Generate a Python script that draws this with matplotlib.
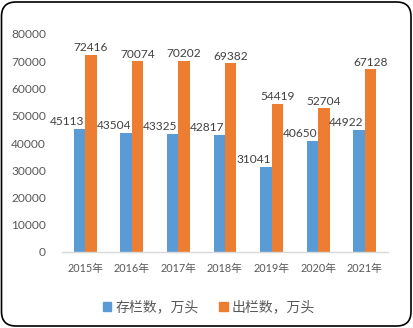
import matplotlib
matplotlib.use("Agg")
import matplotlib.pyplot as plt
from matplotlib.patches import FancyBboxPatch, Patch
import numpy as np

plt.rcParams['font.family'] = ['Lato', 'Noto Sans CJK SC', 'DejaVu Sans']

categories = ['2015年', '2016年', '2017年', '2018年', '2019年', '2020年', '2021年']
stock = [45113, 43504, 43325, 42817, 31041, 40650, 44922]
slaughter = [72416, 70074, 70202, 69382, 54419, 52704, 67128]
series_names = ['存栏数，万头', '出栏数，万头']
yticks = [0, 10000, 20000, 30000, 40000, 50000, 60000, 70000, 80000]

blue = '#5B9BD5'
orange = '#ED7D31'
tick_color = '#595959'
label_color = '#404040'

fig = plt.figure(figsize=(4.13, 3.28), dpi=100)
ax = fig.add_axes([62/413, 1-252/328, (388-62)/413, (252-34)/328])

x = np.arange(len(categories))
w = 0.245
b1 = ax.bar(x - w/2, stock, w, color=blue)
b2 = ax.bar(x + w/2, slaughter, w, color=orange)

for xi, v in zip(x, stock):
    ax.annotate(str(v), (xi, v), xytext=(-0.7, 1.5), textcoords='offset points',
                ha='right', va='bottom', fontsize=8.6, color=label_color)
for xi, v in zip(x, slaughter):
    ax.annotate(str(v), (xi + w/2, v), xytext=(0, 1.0), textcoords='offset points',
                ha='center', va='bottom', fontsize=8.6, color=label_color)

ax.set_xlim(-0.5, len(categories) - 0.5)
ax.set_ylim(0, 80000)
ax.set_yticks(yticks)
ax.set_yticklabels([str(t) for t in yticks])
ax.set_xticks(x)
ax.set_xticklabels(categories)
ax.tick_params(axis='y', length=0, pad=11.5, labelsize=8.6, labelcolor=tick_color)
ax.tick_params(axis='x', length=0, pad=8, labelsize=7.8, labelcolor=tick_color)
for s in ['top', 'right', 'left']:
    ax.spines[s].set_visible(False)
ax.spines['bottom'].set_color('#D9D9D9')
ax.spines['bottom'].set_linewidth(1.0)

handles = [Patch(color=blue), Patch(color=orange)]
fig.legend(handles, series_names, loc='center', bbox_to_anchor=(0.506, 1-306.7/328),
           ncol=2, frameon=False, fontsize=10, labelcolor=tick_color,
           handlelength=0.6, handleheight=0.6, handletextpad=0.3, columnspacing=1.5)

border = FancyBboxPatch((1.5/413, 2/328), (411-1.5)/413, (326-2)/328,
                        boxstyle='round,pad=0,rounding_size=0.035',
                        transform=fig.transFigure, fill=False, edgecolor='black',
                        linewidth=1.2, mutation_aspect=413/328)
fig.patches.append(border)

fig.savefig('out.png', dpi=100)
